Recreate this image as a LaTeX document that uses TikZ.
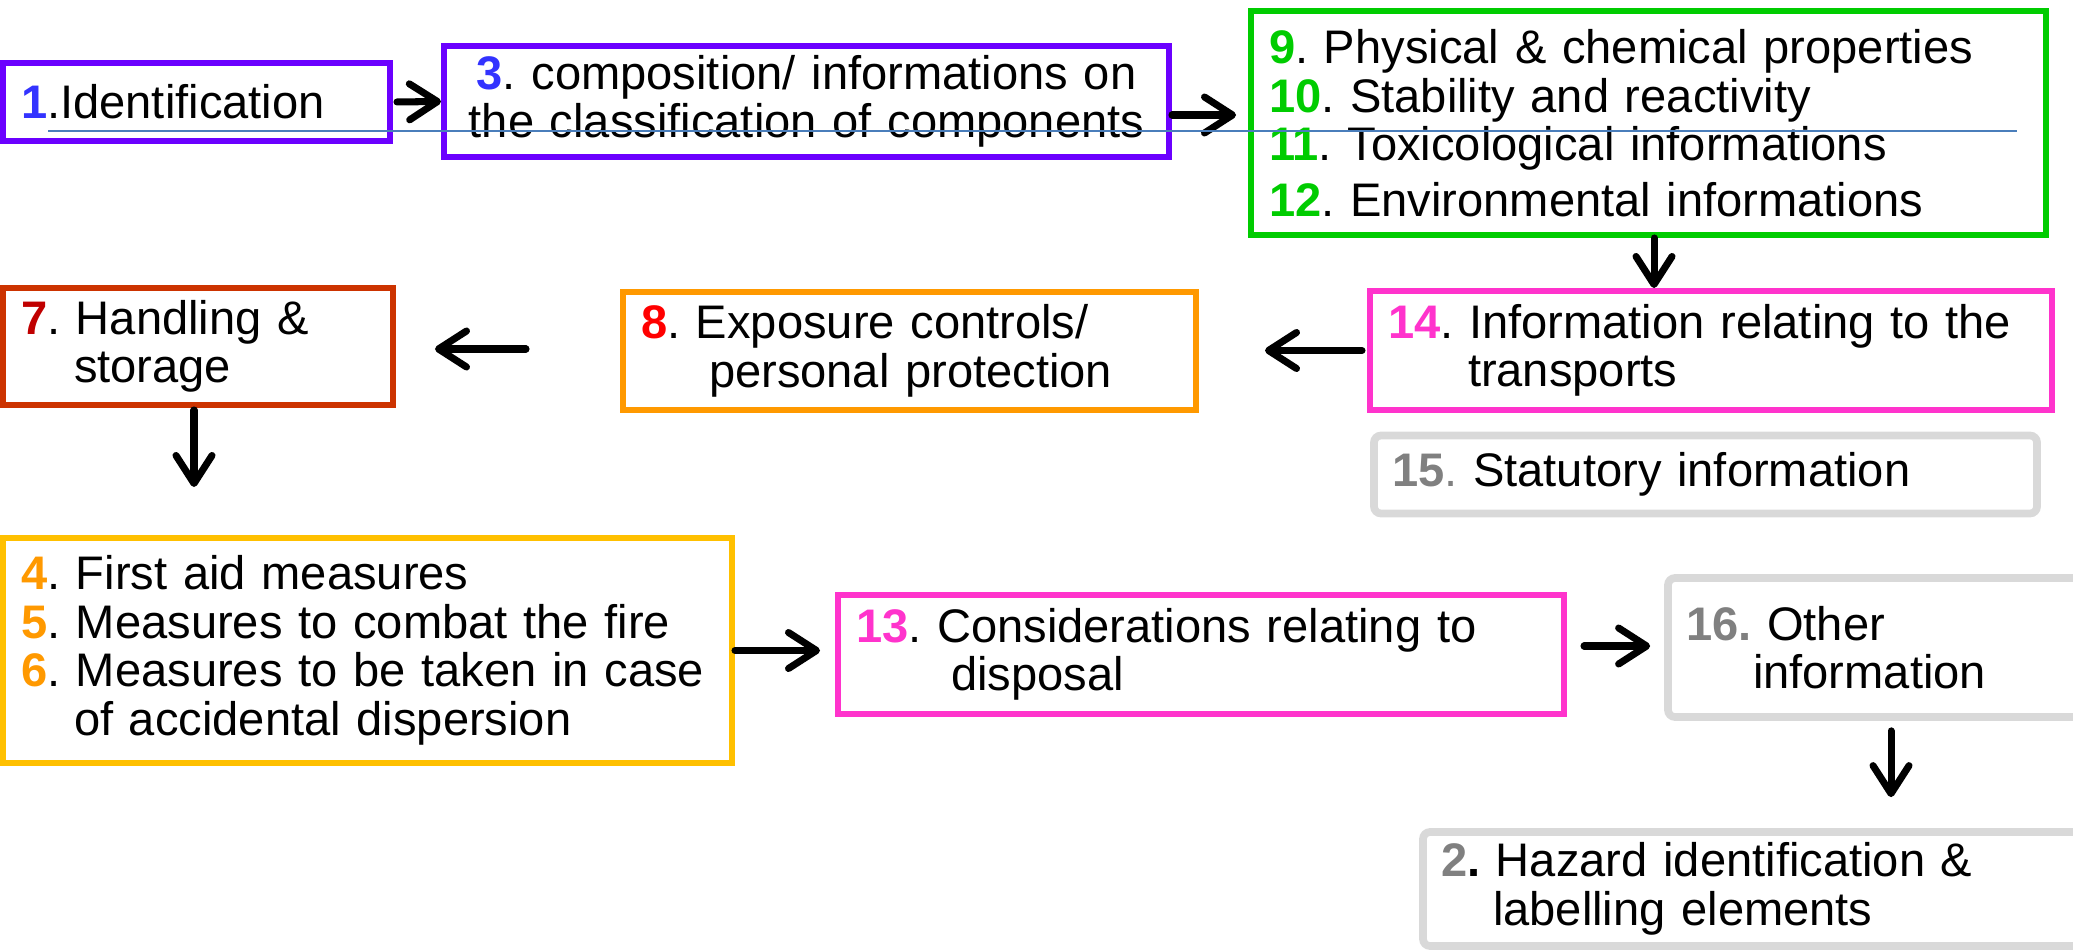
\documentclass[tikz,border=0pt]{standalone}
\usepackage{fontspec}
\setmainfont{Liberation Sans}
\usetikzlibrary{arrows.meta}
\frenchspacing

\definecolor{purp}{HTML}{6B00FF}
\definecolor{numblue}{HTML}{3333FF}
\definecolor{grn}{HTML}{00CC00}
\definecolor{brick}{HTML}{CC3300}
\definecolor{dred}{HTML}{C00000}
\definecolor{orng}{HTML}{FF9900}
\definecolor{pinkc}{HTML}{FF33CC}
\definecolor{gold}{HTML}{FFC000}
\definecolor{lgrey}{HTML}{D9D9D9}
\definecolor{dgrey}{HTML}{808080}
\definecolor{lineblue}{HTML}{4A7EBB}

\newcommand{\snum}[2]{\textbf{\color{#1}#2}}

\tikzset{
  box/.style={draw, rectangle, line width=1.7pt, inner xsep=0.18cm, inner ysep=0pt,
    align=left, font=\fontsize{13.4}{13.8}\selectfont},
  greybox/.style={box, draw=lgrey, line width=2.2pt, rounded corners=2pt},
  arr/.style={-{Straight Barb[length=0.28cm, width=0.36cm, round]}, line width=2pt, line cap=round},
}

\begin{document}
\begin{tikzpicture}
\useasboundingbox (0,0) rectangle (20.73,-9.5);

% first row
\node[box, draw=purp, minimum width=3.87cm, minimum height=0.78cm, text width=3.51cm] (s1) at (1.965,-1.02)
  {\snum{numblue}{1}.Identification};
\node[box, draw=purp, minimum width=7.25cm, minimum height=1.11cm, text width=6.89cm, align=center] (s3) at (8.065,-1.015)
  {\snum{numblue}{3}. composition/ informations on\\the classification of components};
\node[box, draw=grn, minimum width=7.95cm, minimum height=2.24cm, text width=7.59cm] (s9) at (16.485,-1.23)
  {\snum{grn}{9}. Physical \& chemical properties\\
   \snum{grn}{10}. Stability and reactivity\\
   \snum{grn}{11}. Toxicological informations\\[0.07cm]
   \snum{grn}{12}. Environmental informations};

% second row
\node[box, draw=pinkc, minimum width=6.82cm, minimum height=1.19cm, text width=6.46cm] (s14) at (17.11,-3.505)
  {\snum{pinkc}{14}. Information relating to the\\\hspace*{0.8cm}transports};
\node[box, draw=orng, minimum width=5.73cm, minimum height=1.18cm, text width=5.37cm] (s8) at (9.095,-3.51)
  {\snum{red}{8}. Exposure controls/\\\hspace*{0.68cm}personal protection};
\node[box, draw=brick, minimum width=3.9cm, minimum height=1.17cm, text width=3.54cm] (s7) at (1.98,-3.465)
  {\snum{dred}{7}. Handling \&\\\hspace*{0.53cm}storage};
\node[greybox, minimum width=6.63cm, minimum height=0.78cm, text width=6.27cm] (s15) at (17.055,-4.745)
  {{\color{dgrey}\textbf{15}.} Statutory information};

% third row
\node[box, draw=gold, minimum width=7.29cm, minimum height=2.25cm, text width=6.93cm] (s46) at (3.675,-6.505)
  {\snum{orng}{4}. First aid measures\\
   \snum{orng}{5}. Measures to combat the fire\\
   \snum{orng}{6}. Measures to be taken in case\\
   \hspace*{0.53cm}of accidental dispersion};
\node[box, draw=pinkc, minimum width=7.26cm, minimum height=1.19cm, text width=6.9cm] (s13) at (12.01,-6.545)
  {\snum{pinkc}{13}. Considerations relating to\\\hspace*{0.95cm}disposal};
\node[greybox, minimum width=4.17cm, minimum height=1.39cm, text width=3.81cm] (s16) at (18.765,-6.475)
  {{\color{dgrey}\textbf{16.}} Other\\\hspace*{0.67cm}information};
\node[greybox, minimum width=6.62cm, minimum height=1.14cm, text width=6.26cm] (s2) at (17.54,-8.89)
  {\snum{dgrey}{2}\textbf{.} Hazard identification \&\\\hspace*{0.52cm}labelling elements};

% arrows
\draw[arr, shorten <=0.04cm] (s1.east) -- (s3.west);
\draw[arr, shorten >=0.12cm] ([yshift=-0.135cm]s3.east) -- ([yshift=-0.135cm]s3.east -| s9.west);
\draw[arr] ([xshift=0.055cm]s9.south) -- ([xshift=0.055cm]s9.south |- s14.north);
\draw[arr, shorten <=0.05cm, shorten >=0.66cm] (s14.west) -- (s14.west -| s8.east);
\draw[arr, shorten <=0.94cm, shorten >=0.39cm] ([yshift=0.02cm]s8.west) -- ([yshift=0.02cm]s8.west -| s7.east);
\draw[arr, shorten <=0.02cm, shorten >=0.48cm] ([xshift=-0.04cm]s7.south) -- ([xshift=-0.04cm]s7.south |- s46.north);
\draw[arr, shorten >=0.15cm] (s46.east) -- (s46.east -| s13.west);
\draw[arr, shorten <=0.17cm, shorten >=0.14cm] ([yshift=0.085cm]s13.east) -- ([yshift=0.085cm]s13.east -| s16.west);
\draw[arr, shorten <=0.1cm, shorten >=0.31cm] ([xshift=0.145cm]s16.south) -- ([xshift=0.145cm]s16.south |- s2.north);

% thin rule across the top row
\coordinate (la) at (0.48,-1.31);
\coordinate (lb) at (20.17,-1.31);
\draw[lineblue, line width=0.45pt] (la) -- (lb);
\end{tikzpicture}
\end{document}
